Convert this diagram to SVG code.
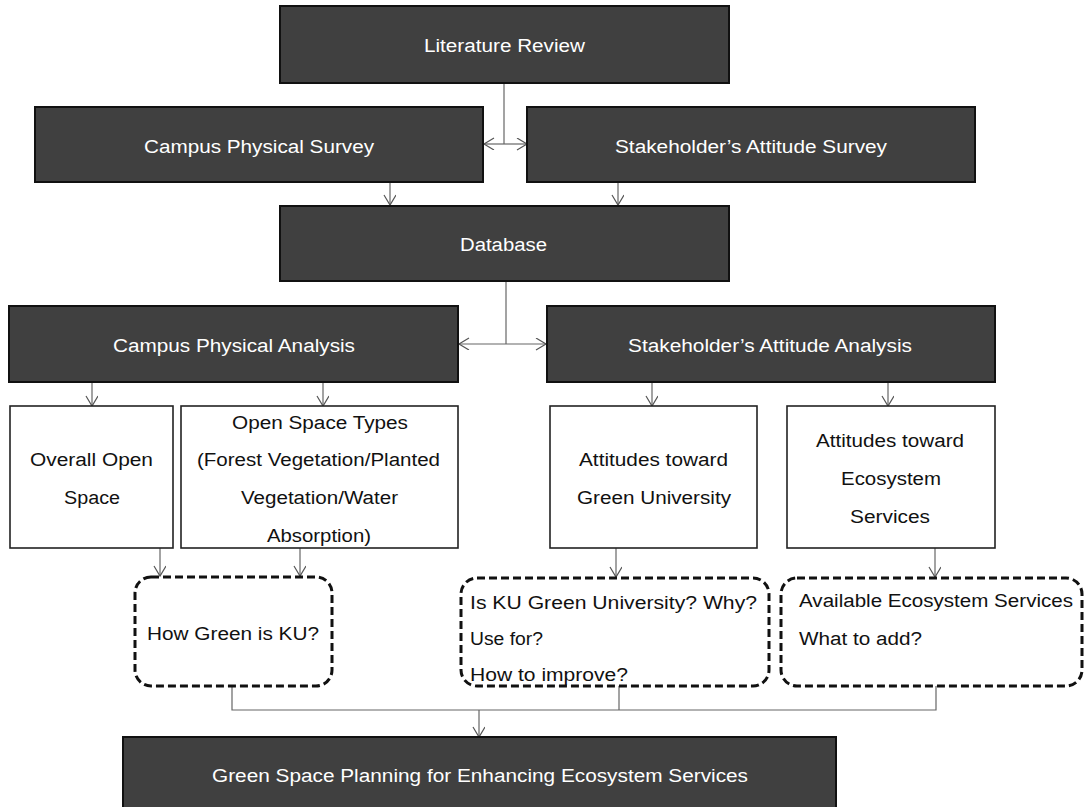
<svg xmlns="http://www.w3.org/2000/svg" width="1084" height="807" viewBox="0 0 1084 807">
<defs>
<marker id="arr" markerUnits="userSpaceOnUse" markerWidth="14" markerHeight="14" refX="11" refY="6" orient="auto">
<path d="M1,0 L11,6 L1,12" fill="none" stroke="#555" stroke-width="1.2"/>
</marker>
<style>
.dark{fill:#404040;stroke:#111;stroke-width:2}
.white{fill:#fff;stroke:#222;stroke-width:1.6}
.dash{fill:#fff;stroke:#111;stroke-width:3;stroke-dasharray:8,4}
.tw{font-family:"Liberation Sans",Arial,sans-serif;font-size:18px;fill:#fff;text-anchor:middle}
.tb{font-family:"Liberation Sans",Arial,sans-serif;font-size:18px;fill:#111;text-anchor:middle}
.tl{font-family:"Liberation Sans",Arial,sans-serif;font-size:18px;fill:#111;text-anchor:start}
.c{fill:none;stroke:#666;stroke-width:1.2}
.ca{fill:none;stroke:#666;stroke-width:1.2;marker-end:url(#arr)}
</style>
</defs>
<rect width="1084" height="807" fill="#fff"/>
<g id="connectors">
<line class="c" x1="504" y1="83" x2="504" y2="144"/>
<line class="ca" x1="504" y1="144" x2="484" y2="144"/>
<line class="ca" x1="504" y1="144" x2="527" y2="144"/>
<line class="ca" x1="390" y1="182" x2="390" y2="205"/>
<line class="ca" x1="618" y1="182" x2="618" y2="205"/>
<line class="c" x1="506" y1="281" x2="506" y2="344"/>
<line class="ca" x1="506" y1="344" x2="459" y2="344"/>
<line class="ca" x1="506" y1="344" x2="546" y2="344"/>
<line class="ca" x1="92" y1="382" x2="92" y2="406"/>
<line class="ca" x1="323" y1="382" x2="323" y2="406"/>
<line class="ca" x1="652" y1="382" x2="652" y2="406"/>
<line class="ca" x1="888" y1="382" x2="888" y2="406"/>
<line class="ca" x1="160" y1="548" x2="160" y2="576"/>
<line class="ca" x1="300" y1="548" x2="300" y2="576"/>
<line class="ca" x1="616" y1="548" x2="616" y2="577"/>
<line class="ca" x1="935" y1="548" x2="935" y2="577"/>
<polyline class="c" points="232,686 232,710 936,710 936,686"/>
<line class="c" x1="619" y1="686" x2="619" y2="710"/>
<line class="ca" x1="479" y1="710" x2="479" y2="737"/>
</g>
<g id="literature-review">
<rect class="dark" x="280" y="6" width="449" height="77"/>
<text class="tw" x="504.5" y="51.5" textLength="161" lengthAdjust="spacingAndGlyphs">Literature Review</text>
</g>
<g id="campus-physical-survey">
<rect class="dark" x="35" y="107" width="448" height="75"/>
<text class="tw" x="259" y="152.5" textLength="230" lengthAdjust="spacingAndGlyphs">Campus Physical Survey</text>
</g>
<g id="stakeholder-attitude-survey">
<rect class="dark" x="527" y="107" width="448" height="75"/>
<text class="tw" x="751" y="152.5" textLength="272" lengthAdjust="spacingAndGlyphs">Stakeholder’s Attitude Survey</text>
</g>
<g id="database">
<rect class="dark" x="280" y="206" width="449" height="75"/>
<text class="tw" x="503.5" y="250.5" textLength="87" lengthAdjust="spacingAndGlyphs">Database</text>
</g>
<g id="campus-physical-analysis">
<rect class="dark" x="9" y="306" width="449" height="76"/>
<text class="tw" x="234" y="351.5" textLength="242" lengthAdjust="spacingAndGlyphs">Campus Physical Analysis</text>
</g>
<g id="stakeholder-attitude-analysis">
<rect class="dark" x="547" y="306" width="448" height="76"/>
<text class="tw" x="770" y="351.5" textLength="284" lengthAdjust="spacingAndGlyphs">Stakeholder’s Attitude Analysis</text>
</g>
<g id="overall-open-space">
<rect class="white" x="10" y="406" width="163" height="142"/>
<text class="tb" x="91.5" y="465.5" textLength="123" lengthAdjust="spacingAndGlyphs">Overall Open</text>
<text class="tb" x="92" y="503.5" textLength="56" lengthAdjust="spacingAndGlyphs">Space</text>
</g>
<g id="open-space-types">
<rect class="white" x="181" y="406" width="277" height="142"/>
<text class="tb" x="320" y="428.5" textLength="176" lengthAdjust="spacingAndGlyphs">Open Space Types</text>
<text class="tb" x="318.5" y="465.5" textLength="243" lengthAdjust="spacingAndGlyphs">(Forest Vegetation/Planted</text>
<text class="tb" x="319.5" y="503.5" textLength="157" lengthAdjust="spacingAndGlyphs">Vegetation/Water</text>
<text class="tb" x="319" y="541.5" textLength="104" lengthAdjust="spacingAndGlyphs">Absorption)</text>
</g>
<g id="attitudes-green-university">
<rect class="white" x="550" y="406" width="207" height="142"/>
<text class="tb" x="653.5" y="465.5" textLength="149" lengthAdjust="spacingAndGlyphs">Attitudes toward</text>
<text class="tb" x="654" y="503.5" textLength="154" lengthAdjust="spacingAndGlyphs">Green University</text>
</g>
<g id="attitudes-ecosystem-services">
<rect class="white" x="787" y="406" width="208" height="142"/>
<text class="tb" x="890" y="446.5" textLength="148" lengthAdjust="spacingAndGlyphs">Attitudes toward</text>
<text class="tb" x="891" y="484.5" textLength="100" lengthAdjust="spacingAndGlyphs">Ecosystem</text>
<text class="tb" x="890" y="522.5" textLength="80" lengthAdjust="spacingAndGlyphs">Services</text>
</g>
<g id="how-green">
<rect class="dash" x="135" y="577" width="197" height="109" rx="16"/>
<text class="tb" x="233" y="639.5" textLength="172" lengthAdjust="spacingAndGlyphs">How Green is KU?</text>
</g>
<g id="ku-questions">
<rect class="dash" x="461" y="578" width="308" height="108" rx="16"/>
<text class="tl" x="470" y="608.5" textLength="287" lengthAdjust="spacingAndGlyphs">Is KU Green University? Why?</text>
<text class="tl" x="470" y="644.5" textLength="73" lengthAdjust="spacingAndGlyphs">Use for?</text>
<text class="tl" x="470" y="681" textLength="158" lengthAdjust="spacingAndGlyphs">How to improve?</text>
</g>
<g id="ecosystem-questions">
<rect class="dash" x="781" y="578" width="301" height="108" rx="16"/>
<text class="tl" x="799" y="606.5" textLength="274" lengthAdjust="spacingAndGlyphs">Available Ecosystem Services</text>
<text class="tl" x="799" y="644.5" textLength="123" lengthAdjust="spacingAndGlyphs">What to add?</text>
</g>
<g id="green-space-planning">
<rect class="dark" x="123" y="737" width="713" height="75"/>
<text class="tw" x="480" y="781.5" textLength="536" lengthAdjust="spacingAndGlyphs">Green Space Planning for Enhancing Ecosystem Services</text>
</g>
</svg>
